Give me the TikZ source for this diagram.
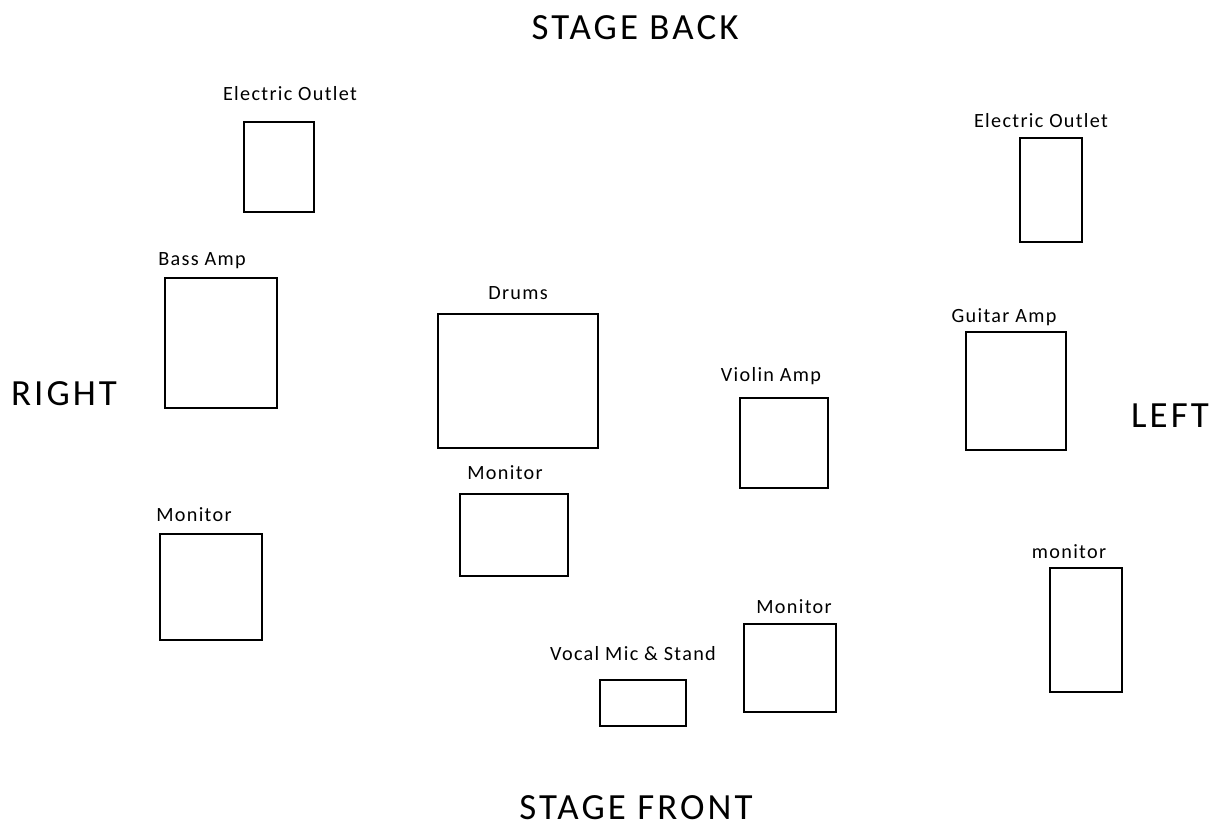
\documentclass[tikz,border=0pt]{standalone}
\usepackage{fontspec}
\setmainfont{Carlito}[LetterSpace=6.5]
\newfontfamily\sidefont{Carlito}[LetterSpace=8.4]
\usepackage{tikz}

\begin{document}
\begin{tikzpicture}[
  x=0.02cm, y=-0.02cm,
  box/.style={draw=black, line width=1.1pt},
  tag/.style={font=\fontsize{11.5}{13}\selectfont, inner sep=0pt},
  side/.style={font=\sidefont\fontsize{21}{24}\selectfont, inner sep=0pt},
]
  \useasboundingbox[fill=white] (0,0) rectangle (1216,827);

  % --- stage items ---
  \foreach \xa/\ya/\xb/\yb in {
    244/122/314/212,   % electric outlet, right side
    1020/138/1082/242, % electric outlet, left side
    165/278/277/408,   % bass amp
    438/314/598/448,   % drums
    740/398/828/488,   % violin amp
    966/332/1066/450,  % guitar amp
    460/494/568/576,   % monitor, centre
    160/534/262/640,   % monitor, right side
    744/624/836/712,   % monitor, front
    600/680/686/726,   % vocal mic
    1050/568/1122/692  % monitor, left side
  } {
    \draw[box] (\xa,\ya) rectangle (\xb,\yb);
  }

  % --- item labels ---
  \foreach \x/\y/\txt in {
    290/94/{Electric Outlet},
    1041/121/{Electric Outlet},
    202/261/{Bass Amp},
    518/293/{Drums},
    771/376/{Violin Amp},
    1004/317/{Guitar Amp},
    505/473/{Monitor},
    194/515/{Monitor},
    794/607/{Monitor},
    633/654/{Vocal Mic \& Stand},
    1069/552/{monitor}
  } {
    \node[tag] at (\x,\y) {\txt};
  }

  % --- stage sides ---
  \node[side] (back) at (635,28) {STAGE BACK};
  \node[side] (front) at (636,808) {STAGE FRONT};
  \node[side] (right) at (64,394) {RIGHT};
  \node[side] (left) at (1170,416) {LEFT};

\end{tikzpicture}
\end{document}
